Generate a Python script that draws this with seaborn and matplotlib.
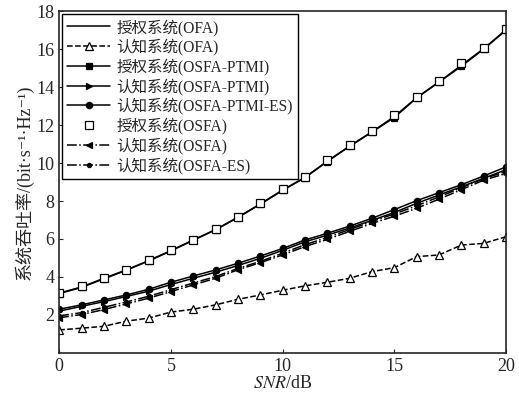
import numpy as np
import pandas as pd
import matplotlib
matplotlib.use('Agg')
import matplotlib.pyplot as plt
import seaborn as sns

# SNR points (dB)
snr = list(range(21))

# throughput values, bit/s/Hz
auth_ofa = [3.15, 3.47, 3.93, 4.37, 4.86, 5.39, 5.95, 6.50, 7.15, 7.85, 8.58,
            9.25, 10.10, 10.90, 11.65, 12.45, 13.45, 14.28, 15.15, 16.03, 17.03]
cog_ofa = [1.21, 1.30, 1.40, 1.67, 1.83, 2.15, 2.30, 2.53, 2.82, 3.05, 3.30,
           3.53, 3.72, 3.93, 4.28, 4.49, 5.07, 5.16, 5.68, 5.77, 6.12]
auth_osfa_ptmi = [3.12, 3.45, 3.90, 4.35, 4.84, 5.37, 5.93, 6.48, 7.13, 7.83, 8.56,
                  9.23, 10.08, 10.88, 11.63, 12.40, 13.43, 14.26, 15.10, 16.00, 17.00]
cog_osfa_ptmi = [2.20, 2.45, 2.70, 2.97, 3.25, 3.60, 3.93, 4.25, 4.60, 4.98, 5.40,
                 5.85, 6.20, 6.58, 6.98, 7.40, 7.88, 8.32, 8.75, 9.20, 9.65]
cog_osfa_ptmi_es = [2.30, 2.53, 2.79, 3.05, 3.35, 3.72, 4.05, 4.37, 4.72, 5.10, 5.50,
                    5.95, 6.30, 6.68, 7.09, 7.55, 8.02, 8.44, 8.86, 9.32, 9.80]
auth_osfa = [3.18, 3.50, 3.95, 4.38, 4.88, 5.42, 5.97, 6.52, 7.18, 7.88, 8.62,
             9.28, 10.14, 10.93, 11.68, 12.55, 13.50, 14.30, 15.25, 16.08, 17.05]
cog_osfa = [1.85, 2.02, 2.28, 2.58, 2.88, 3.23, 3.58, 3.93, 4.38, 4.75, 5.16,
            5.60, 5.98, 6.40, 6.82, 7.20, 7.62, 8.10, 8.60, 9.10, 9.45]
cog_osfa_es = [1.95, 2.12, 2.40, 2.68, 2.98, 3.33, 3.68, 4.02, 4.45, 4.82, 5.25,
               5.70, 6.08, 6.50, 6.92, 7.32, 7.75, 8.22, 8.70, 9.18, 9.55]

labels = ['授权系统(OFA)', '认知系统(OFA)', '授权系统(OSFA-PTMI)', '认知系统(OSFA-PTMI)',
          '认知系统(OSFA-PTMI-ES)', '授权系统(OSFA)', '认知系统(OSFA)', '认知系统(OSFA-ES)']
series = [auth_ofa, cog_ofa, auth_osfa_ptmi, cog_osfa_ptmi,
          cog_osfa_ptmi_es, auth_osfa, cog_osfa, cog_osfa_es]

# line style / marker per series
styles = [
    dict(linestyle='-', marker=None),
    dict(linestyle='--', marker='^', markerfacecolor='white', markersize=6),
    dict(linestyle='-', marker='s', markerfacecolor='black', markersize=4.5),
    dict(linestyle='-', marker='>', markerfacecolor='black', markersize=5),
    dict(linestyle='-', marker='o', markerfacecolor='black', markersize=4.5),
    dict(linestyle='none', marker='s', markerfacecolor='white', markersize=6),
    dict(linestyle='-.', marker='<', markerfacecolor='black', markersize=5),
    dict(linestyle='-.', marker='.', markerfacecolor='black', markersize=6),
]

sns.set_style('ticks')
plt.rcParams['font.family'] = ['Liberation Serif', 'Noto Sans CJK SC', 'DejaVu Serif']
plt.rcParams['mathtext.fontset'] = 'stix'

fig, ax = plt.subplots(figsize=(5.19, 4.01), dpi=100)
fig.subplots_adjust(left=0.114, right=0.975, top=0.972, bottom=0.12)

for lab, vals, st in zip(labels, series, styles):
    sns.lineplot(x=snr, y=vals, ax=ax, color='black', linewidth=1.1,
                 markeredgecolor='black', markeredgewidth=0.9, label=lab, **st)

ax.set_xlim(0, 20)
ax.set_ylim(0, 18)
ax.set_xticks([0, 5, 10, 15, 20])
ax.set_yticks(range(2, 19, 2))
ax.tick_params(direction='in', labelsize=13, length=3, width=0.8)
for sp in ax.spines.values():
    sp.set_linewidth(1.2)
    sp.set_visible(True)

ax.set_xlabel('$SNR$/dB', fontsize=13, labelpad=0)
ax.set_ylabel('系统吞吐率/(bit·s⁻¹·Hz⁻¹)', fontsize=13, labelpad=2)

leg = ax.legend(loc='upper left', fontsize=11.2, frameon=True, fancybox=False,
                edgecolor='black', framealpha=1, labelspacing=0.18,
                handlelength=2.8, borderpad=0.3, borderaxespad=0.2, handletextpad=0.4)
leg.get_frame().set_linewidth(1.0)

plt.savefig('out.png', dpi=100)
